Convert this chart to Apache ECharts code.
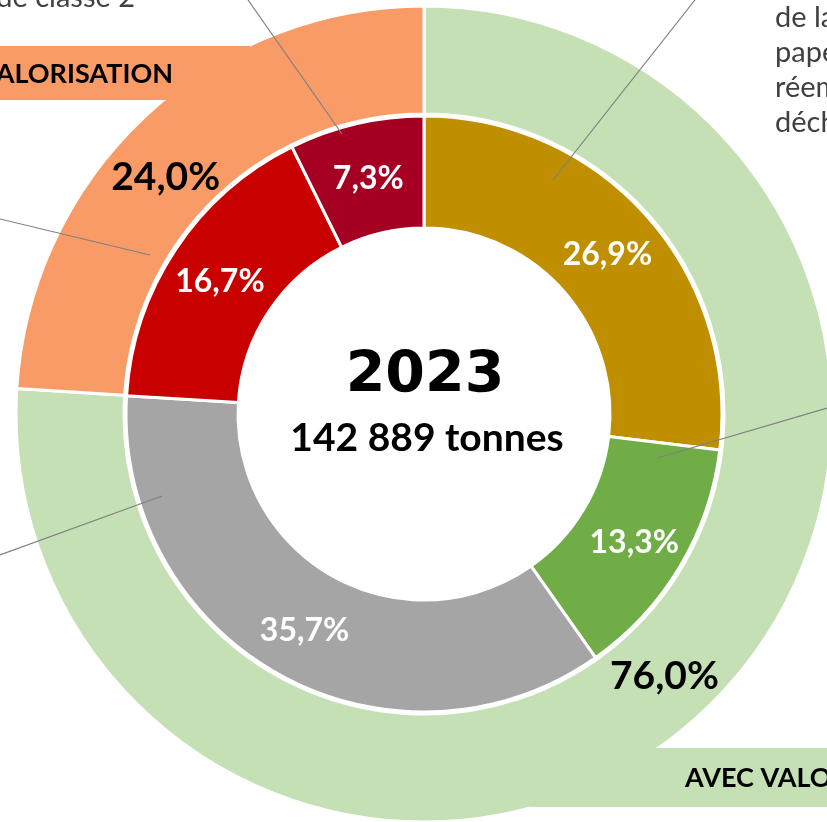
<!DOCTYPE html>
<html>
<head>
<meta charset="utf-8">
<script src="https://cdn.jsdelivr.net/npm/echarts@6/dist/echarts.min.js"></script>
<style>
  html, body { margin: 0; padding: 0; background: #fff; }
  #chart { width: 827px; height: 822px; }
</style>
</head>
<body>
<div id="chart"></div>
<script>
// data
var year = '2023';
var total = '142 889 tonnes';
var outerNames = ['AVEC VALORISATION', 'SANS VALORISATION'];
var outerValues = [76.0, 24.0];
var innerNames = ['a', 'b', 'c', 'd', 'e'];
var innerValues = [26.9, 13.3, 35.7, 16.7, 7.3];

var outerColors = ['#C5E0B4', '#F99B67'];
var innerColors = ['#BF8F00', '#70AD47', '#A5A5A5', '#C80000', '#A50021'];
// nudges for the outer labels (the orange one sits off the slice middle)
var outerLabelOffsets = [[-4, 2], [-14, 24]];

function pct(v) {
  return v.toFixed(1).replace('.', ',') + '%';
}

var chart = echarts.init(document.getElementById('chart'));
var lineStyle = { stroke: '#808080', lineWidth: 1.2 };

var option = {
  animation: false,
  series: [
    {
      type: 'pie',
      center: [424, 414],
      radius: [300, 408],
      startAngle: 90,
      clockwise: true,
      silent: true,
      label: {
        show: true,
        position: 'inside',
        color: '#000',
        fontFamily: 'Lato',
        fontWeight: 'bold',
        fontSize: 39,
        formatter: function (p) { return pct(p.value); }
      },
      itemStyle: { borderColor: '#fff', borderWidth: 3 },
      data: outerValues.map(function (v, i) {
        return {
          name: outerNames[i], value: v,
          itemStyle: { color: outerColors[i] },
          label: { offset: outerLabelOffsets[i] }
        };
      })
    },
    {
      type: 'pie',
      center: [424, 414],
      radius: [186, 298],
      startAngle: 90,
      clockwise: true,
      silent: true,
      label: {
        show: true,
        position: 'inside',
        color: '#fff',
        fontFamily: 'Lato',
        fontWeight: 'bold',
        fontSize: 32,
        offset: [0, 3],
        formatter: function (p) { return pct(p.value); }
      },
      itemStyle: { borderColor: '#fff', borderWidth: 3 },
      data: innerValues.map(function (v, i) {
        return { name: innerNames[i], value: v, itemStyle: { color: innerColors[i] } };
      })
    }
  ],
  graphic: [
    // banners joined to the outer ring
    { type: 'rect', z: 10, shape: { x: 0, y: 46, width: 250, height: 54 }, style: { fill: outerColors[1] } },
    { type: 'rect', z: 10, shape: { x: 530, y: 748, width: 297, height: 59 }, style: { fill: outerColors[0] } },
    { type: 'text', z: 11, x: 173, y: 74, style: { text: outerNames[1], align: 'right', verticalAlign: 'middle', font: 'bold 27px Lato', fill: '#000' } },
    { type: 'text', z: 11, x: 685, y: 778, style: { text: outerNames[0], align: 'left', verticalAlign: 'middle', font: 'bold 27px Lato', fill: '#000' } },
    // centre
    { type: 'text', z: 11, x: 425, y: 377, style: { text: year, align: 'center', verticalAlign: 'middle', font: 'bold 57px "DejaVu Sans"', fill: '#000' } },
    { type: 'text', z: 11, x: 427, y: 438, style: { text: total, align: 'center', verticalAlign: 'middle', font: 'bold 39px Lato', fill: '#000' } },
    // cut off annotations
    { type: 'text', z: 11, x: 135, y: -2, style: { text: 'de classe 2', align: 'right', verticalAlign: 'middle', font: '29px Lato', fill: '#404040' } },
    { type: 'text', z: 11, x: 775, y: 0, style: { text: 'de la\npapeterie\nréemploi\ndéchets', align: 'left', verticalAlign: 'top', font: '29px Lato', lineHeight: 35, fill: '#404040' } },
    // leader lines
    { type: 'polyline', z: 12, shape: { points: [[342, 134], [248, 0]] }, style: lineStyle },
    { type: 'polyline', z: 12, shape: { points: [[150, 255], [0, 219]] }, style: lineStyle },
    { type: 'polyline', z: 12, shape: { points: [[553, 180], [695, 0]] }, style: lineStyle },
    { type: 'polyline', z: 12, shape: { points: [[657, 458], [827, 408]] }, style: lineStyle },
    { type: 'polyline', z: 12, shape: { points: [[162, 496], [0, 555]] }, style: lineStyle }
  ]
};

chart.setOption(option);
</script>
</body>
</html>
